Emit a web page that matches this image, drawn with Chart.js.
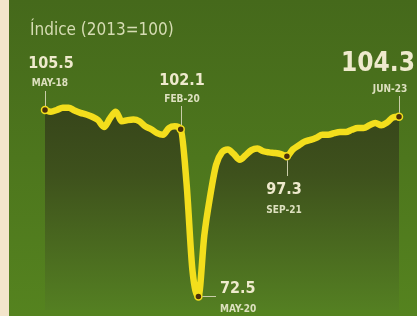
<!DOCTYPE html>
<html>
<head>
<meta charset="utf-8">
<script src="https://cdn.jsdelivr.net/npm/chart.js@4/dist/chart.umd.min.js"></script>
<style>
  html, body { margin: 0; padding: 0; background: #f3e5cb; }
  #wrap { position: relative; width: 417px; height: 316px; }
</style>
</head>
<body>
<div id="wrap"><canvas id="indexChart"></canvas></div>
<script>
// ==========================
// Data
// ==========================
const indexValues = [
  105.5, 105.2, 105.5, 105.9, 105.9, 105.4, 105.0, 104.7, 104.3, 103.7,
  102.5, 104.0, 105.2, 103.5, 103.7, 103.8, 103.5, 102.6, 102.1, 101.4,
  101.1, 102.3, 102.6, 102.1, 92.4, 77.0, 72.5, 83.3, 90.3, 95.8,
  98.0, 98.5, 97.7, 96.7, 97.5, 98.4, 98.7, 98.2, 98.0, 97.9,
  97.7, 97.3, 98.5, 99.2, 99.9, 100.2, 100.6, 101.1, 101.1, 101.4,
  101.6, 101.6, 102.0, 102.3, 102.3, 102.8, 103.2, 102.8, 103.3, 104.2,
  104.3
];
const sampleLabels = indexValues.map((_, i) => i);

// highlighted points
const keyIndex = [0, 23, 26, 41, 60];
const keyDates = ["MAY-18", "FEB-20", "MAY-20", "SEP-21", "JUN-23"];

const titleText = "Índice (2013=100)";

document.addEventListener("DOMContentLoaded", function() {
  const canvas = document.getElementById("indexChart");
  const FONT = "'DejaVu Sans Condensed', 'DejaVu Sans', sans-serif";
  const YELLOW = "#f3de1c";
  const TXT = "#efeacd";

  // ==========================
  // Background (cream strip + green panel)
  // ==========================
  const backgroundPlugin = {
    id: "panelBg",
    beforeDraw(chart) {
      const { ctx, width, height } = chart;
      ctx.save();
      ctx.fillStyle = "#f3e5cb";
      ctx.fillRect(0, 0, width, height);
      const g = ctx.createLinearGradient(0, 0, 0, height);
      g.addColorStop(0, "#45691b");
      g.addColorStop(1, "#55831f");
      ctx.fillStyle = g;
      ctx.fillRect(9, 0, width - 9, height);
      ctx.restore();
    }
  };

  // ==========================
  // Annotations (values, dates, leader ticks)
  // ==========================
  const labelPlugin = {
    id: "keyLabels",
    afterDatasetsDraw(chart) {
      const { ctx } = chart;
      const meta = chart.getDatasetMeta(0);
      const pt = i => meta.data[keyIndex[i]];
      const val = i => indexValues[keyIndex[i]].toFixed(1);

      ctx.save();
      // title
      ctx.fillStyle = "#d6dcb3";
      ctx.font = "17px " + FONT;
      ctx.textBaseline = "alphabetic";
      ctx.textAlign = "left";
      ctx.fillText(titleText, 30, 35);

      // leader ticks
      ctx.strokeStyle = "#c9cca8";
      ctx.lineWidth = 1;
      const vtick = (p, y0, y1) => {
        ctx.beginPath();
        ctx.moveTo(Math.round(p.x) + 0.5, y0);
        ctx.lineTo(Math.round(p.x) + 0.5, y1);
        ctx.stroke();
      };
      vtick(pt(0), 91, pt(0).y - 4);
      vtick(pt(1), 106, pt(1).y - 4);
      vtick(pt(4), 96, pt(4).y - 4);
      vtick(pt(3), pt(3).y + 4, 176);
      ctx.beginPath();
      ctx.moveTo(pt(2).x + 4, Math.round(pt(2).y) + 0.5);
      ctx.lineTo(216, Math.round(pt(2).y) + 0.5);
      ctx.stroke();

      // values + dates
      const big = "bold 16px " + FONT;
      const small = "bold 10px " + FONT;
      const put = (text, font, x, y, align, color) => {
        ctx.font = font;
        ctx.textAlign = align;
        ctx.fillStyle = color || TXT;
        ctx.fillText(text, x, y);
      };
      put(val(0), big, 51, 68, "center");
      put(keyDates[0], small, 50, 86, "center", "#dde0bf");
      put(val(1), big, 182, 85, "center");
      put(keyDates[1], small, 182, 102, "center", "#dde0bf");
      put(val(4), "bold 26px " + FONT, 415, 71, "right");
      put(keyDates[4], small, 390, 92, "center", "#dde0bf");
      put(val(3), big, 284, 194, "center");
      put(keyDates[3], small, 284, 213, "center", "#dde0bf");
      put(val(2), big, 220, 293, "left");
      put(keyDates[2], small, 220, 312, "left", "#dde0bf");
      ctx.restore();
    }
  };

  // ==========================
  // Chart.js line
  // ==========================
  const radii = indexValues.map((_, i) => keyIndex.includes(i) ? 3.5 : 0);

  new Chart(canvas.getContext("2d"), {
    type: "line",
    data: {
      labels: sampleLabels,
      datasets: [{
        data: indexValues,
        borderColor: YELLOW,
        borderWidth: 6.5,
        cubicInterpolationMode: "monotone",
        pointRadius: radii,
        pointBackgroundColor: "#4a2f0c",
        pointBorderColor: YELLOW,
        pointBorderWidth: 1.5,
        fill: "start",
        backgroundColor: (context) => {
          const area = context.chart.chartArea;
          if (!area) return "#3d4e1b";
          const g = context.chart.ctx.createLinearGradient(0, 100, 0, area.bottom);
          g.addColorStop(0, "#36441a");
          g.addColorStop(0.35, "#3e511c");
          g.addColorStop(1, "#547f22");
          return g;
        },
        clip: false
      }]
    },
    options: {
      responsive: true,
      maintainAspectRatio: false,
      animation: false,
      layout: { padding: { left: 45, right: 18, top: 0, bottom: 0 } },
      plugins: {
        legend: { display: false },
        tooltip: { enabled: false }
      },
      scales: {
        x: { display: false, offset: false },
        y: { display: false, min: 70, max: 124 }
      }
    },
    plugins: [backgroundPlugin, labelPlugin]
  });
});
</script>
</body>
</html>
